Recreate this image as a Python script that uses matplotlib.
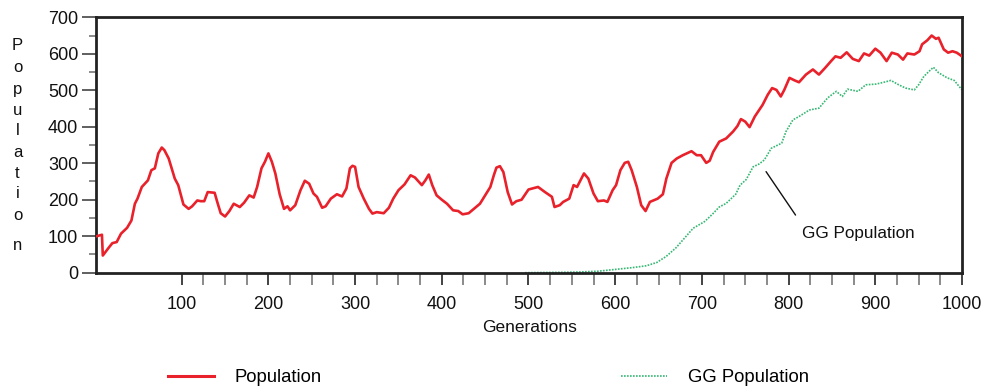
import matplotlib
matplotlib.use("Agg")
import matplotlib.pyplot as plt
from matplotlib.lines import Line2D
from matplotlib.ticker import MultipleLocator, FixedLocator

plt.rcParams['font.family'] = ['Liberation Sans', 'DejaVu Sans']

# ---------------- data ----------------
pop_gen = [2, 8, 9, 15, 20, 25, 30, 37, 42, 46, 49, 54, 61, 65, 69, 73, 77, 80, 85, 92,
           96, 102, 108, 112, 118, 122, 126, 130, 138, 141, 145, 150, 155, 160, 167, 172,
           178, 183, 187, 192, 196, 200, 204, 208, 213, 218, 222, 225, 231, 237, 242, 247,
           252, 256, 262, 266, 272, 279, 285, 290, 294, 297, 300, 304, 310, 316, 320, 325,
           333, 339, 344, 350, 357, 364, 369, 377, 381, 385, 389, 394, 400, 406, 413, 419,
           424, 431, 436, 444, 450, 456, 460, 463, 467, 471, 476, 481, 486, 492, 500, 511,
           519, 527, 530, 536, 540, 547, 552, 556, 564, 569, 575, 580, 587, 591, 597, 601,
           606, 611, 615, 619, 625, 630, 635, 640, 644, 649, 655, 659, 665, 671, 678, 688,
           694, 699, 705, 709, 713, 720, 728, 736, 741, 745, 750, 755, 761, 770, 776, 781,
           786, 791, 795, 801, 807, 812, 820, 828, 835, 842, 849, 854, 860, 867, 874, 881,
           887, 893, 900, 906, 913, 919, 926, 932, 937, 945, 951, 954, 960, 965, 970, 973,
           979, 984, 989, 994, 1000]
pop_val = [100, 104, 47, 66, 81, 84, 107, 123, 143, 189, 203, 235, 253, 281, 286, 327, 343,
           336, 313, 258, 240, 187, 175, 182, 198, 196, 196, 221, 219, 194, 163, 154, 169,
           189, 180, 192, 212, 206, 235, 286, 304, 327, 304, 272, 215, 175, 182, 171, 185,
           226, 252, 244, 217, 208, 178, 182, 203, 215, 209, 231, 286, 293, 290, 235, 203,
           175, 162, 166, 163, 178, 203, 226, 242, 267, 261, 240, 253, 269, 240, 212, 200,
           189, 171, 169, 160, 163, 173, 189, 212, 235, 267, 288, 292, 276, 221, 187, 196,
           200, 228, 235, 221, 208, 180, 185, 194, 203, 240, 235, 272, 258, 217, 196, 198,
           194, 226, 240, 281, 301, 304, 281, 235, 185, 169, 194, 198, 203, 215, 258, 301,
           313, 322, 333, 322, 322, 301, 307, 331, 359, 368, 387, 402, 421, 414, 399, 428,
           460, 488, 506, 501, 483, 501, 534, 527, 522, 543, 557, 543, 561, 580, 593, 589,
           604, 586, 580, 601, 595, 614, 603, 580, 603, 598, 584, 601, 598, 607, 626, 637,
           650, 641, 644, 612, 603, 607, 603, 593]

gg_gen = [496, 540, 560, 580, 600, 620, 636, 648, 659, 670, 680, 690, 703, 712, 720, 728,
          739, 744, 751, 759, 766, 772, 780, 792, 797, 805, 812, 824, 835, 845, 855, 862,
          868, 880, 889, 901, 910, 918, 927, 935, 945, 950, 956, 962, 967, 973, 983, 991,
          1000]
gg_val = [0, 1, 2, 4, 9, 14, 19, 28, 45, 68, 95, 122, 140, 160, 180, 190, 215, 240, 255,
          290, 298, 309, 341, 355, 387, 419, 428, 446, 451, 479, 497, 483, 503, 497, 515,
          517, 522, 527, 515, 506, 501, 515, 538, 552, 563, 548, 534, 527, 501]

x_tick_labels = ['100', '200', '300', '400', '500', '600', '700', '800', '900', '1000']
y_tick_labels = ['0', '100', '200', '300', '400', '500', '600', '700']
series_names = ['Population', 'GG Population']
x_title = 'Generations'
y_title = 'Population'

RED = '#e8212b'
GREEN = '#35b873'
FRAME = '#222222'

W, H = 986, 392
fig = plt.figure(figsize=(W / 100, H / 100), dpi=100)


def fx(px):
    return px / W


def fy(py):
    return 1 - py / H


ax = fig.add_axes([fx(96.3), fy(272.7), fx(962) - fx(96.3), fy(17.3) - fy(272.7)])

ax.plot(pop_gen, pop_val, color=RED, lw=1.9, solid_joinstyle='round', zorder=3)
ax.plot(gg_gen, gg_val, color=GREEN, lw=1.2, linestyle=(0, (1, 0.8)), zorder=2)

ax.set_xlim(1.5, 1000)
ax.set_ylim(0, 700)

# x ticks
xt = [int(s) for s in x_tick_labels]
ax.xaxis.set_major_locator(FixedLocator(xt))
ax.set_xticklabels(x_tick_labels)
ax.xaxis.set_minor_locator(FixedLocator([g for g in range(125, 1000, 25) if g % 100]))
ax.tick_params(axis='x', which='major', length=8.6, width=1.2, color='#222222',
               pad=8, labelsize=13, labelcolor='#111111', direction='out')
ax.tick_params(axis='x', which='minor', length=8.6, width=1.2, color='#777777',
               direction='out')

# y ticks
yt = [int(s) for s in y_tick_labels]
ax.yaxis.set_major_locator(FixedLocator(yt))
ax.set_yticklabels(y_tick_labels)
ax.yaxis.set_minor_locator(MultipleLocator(50))
ax.tick_params(axis='y', which='major', length=10, width=1.2, color='#444444',
               pad=3, labelsize=13, labelcolor='#111111', direction='out')
ax.tick_params(axis='y', which='minor', length=5, width=1.2, color='#777777',
               direction='out')

for s in ax.spines.values():
    s.set_linewidth(2.0)
    s.set_color(FRAME)

ax.set_xlabel(x_title, fontsize=12.5, labelpad=5, color='#111111')

# vertical stacked y-axis title
baselines = [50, 71.7, 94.3, 115, 135, 156.7, 178.3, 198.3, 220, 250]
for ch, by in zip(y_title, baselines):
    fig.text(fx(17.5), fy(by), ch, ha='center', va='baseline', fontsize=12,
             color='#111111')

# annotation for GG Population
ax.annotate('', xy=(774, 277), xytext=(808, 158),
            arrowprops=dict(arrowstyle='-', color='#111111', lw=1.0,
                            shrinkA=0, shrinkB=0))
ax.text(815, 95, series_names[1], fontsize=12.3, ha='left', va='baseline',
        color='#111111')

# legends
h1 = Line2D([], [], color=RED, lw=2.2)
h2 = Line2D([], [], color=GREEN, lw=1.2, linestyle=(0, (1, 0.8)))
leg_kw = dict(frameon=False, loc='center left', borderpad=0, borderaxespad=0,
              handlelength=2.5, handletextpad=1.1, fontsize=13.3)
fig.legend([h1], [series_names[0]], bbox_to_anchor=(fx(168), fy(378)), **leg_kw)
fig.legend([h2], [series_names[1]], bbox_to_anchor=(fx(621), fy(378)), **leg_kw)

fig.savefig('out.png', dpi=100)
